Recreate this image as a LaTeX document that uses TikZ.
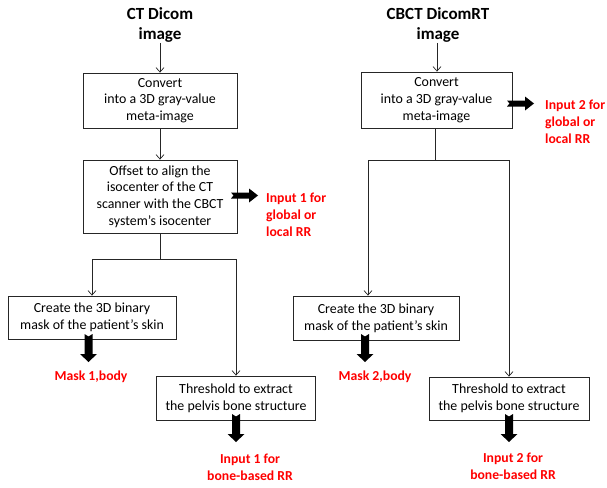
\documentclass[tikz,border=0pt]{standalone}
\usepackage{fontspec}
\setmainfont{Carlito}
\usetikzlibrary{arrows.meta,calc}
\definecolor{lblred}{RGB}{255,0,0}
\begin{document}
\begin{tikzpicture}[x=1pt,y=-1pt,
  box/.style={draw=black!85,line width=0.8pt,align=center,inner sep=0pt,
    font=\fontsize{13.9}{16.7}\selectfont},
  ttl/.style={align=center,inner sep=0pt,font=\bfseries\fontsize{17}{20}\selectfont},
  lbl/.style={text=lblred,inner sep=0pt,font=\bfseries\fontsize{13.7}{17}\selectfont},
  con/.style={draw=black!85,line width=0.7pt},
  arr/.style={con,-{Straight Barb[length=4.5pt,width=8pt,line width=0.7pt]}},
  fatright/.pic={\fill (0,-3)--(2.5,0)--(0,3)--(18,3)--(18,7)--(27,0)--(18,-7)--(18,-3)--cycle;},
  fatdown/.pic={\fill (0,-4)--(2.5,0)--(0,4)--(20,4)--(20,8.5)--(28,0)--(20,-8.5)--(20,-4)--cycle;}
]
\useasboundingbox (0,0) rectangle (607,487);

% titles
\node[ttl] (t1) at (160,25) {CT Dicom\\image};
\node[ttl] (t2) at (438,25) {CBCT DicomRT\\image};

% left column
\node[box,minimum width=154,minimum height=55] (b1) at (160,100.5)
  {Convert\\into a 3D gray-value\\meta-image};
\node[box,minimum width=154,minimum height=73] (b2) at (160,196.5)
  {Offset to align the\\isocenter of the CT\\scanner with the CBCT\\system’s isocenter};
\node[box,minimum width=168,minimum height=43] (b3) at (92,317.5)
  {Create the 3D binary\\mask of the patient’s skin};
\node[box,minimum width=159,minimum height=44] (b4) at (236,398)
  {Threshold to extract\\the pelvis bone structure};

% right column
\node[box,minimum width=151,minimum height=56] (b5) at (436.5,100)
  {Convert\\into a 3D gray-value\\meta-image};
\node[box,minimum width=166,minimum height=44] (b6) at (376,318)
  {Create the 3D binary\\mask of the patient’s skin};
\node[box,minimum width=160,minimum height=43] (b7) at (509,398.5)
  {Threshold to extract\\the pelvis bone structure};

% connectors left
\draw[arr] (t1.south |- 0,43) -- (b1.north);
\draw[arr] (b1) -- (b2);
\coordinate (j1) at (160,259);
\draw[con] (b2.south) -- (j1);
\draw[arr] (j1) -| (b3.north);
\draw[arr] (j1) -| (b4.north);

% connectors right
\draw[arr] (437,43) -- (b5.north -| 437,0);
\coordinate (j2) at (435,160);
\draw[con] (b5.south -| j2) -- (j2);
\coordinate (c6) at (368,0);
\draw[arr] (j2) -| (c6 |- b6.north);
\draw[arr] (j2) -| (b7.north);

% fat arrows
\pic at (231,195.5) {fatright};
\pic at (507,103.5) {fatright};
\pic[rotate=-90] at (88.5,334) {fatdown};
\pic[rotate=-90] at (236,414) {fatdown};
\pic[rotate=-90] at (365,334) {fatdown};
\pic[rotate=-90] at (509,414) {fatdown};

% labels
\node[lbl,align=left,anchor=west] (l1) at (266,214.5) {Input 1 for\\global or\\local RR};
\node[lbl,align=left,anchor=west] (l2) at (545,121.5) {Input 2 for\\global or\\local RR};
\node[lbl] (m1) at (91,377) {Mask 1,body};
\node[lbl] (m2) at (375,377) {Mask 2,body};
\node[lbl,align=center] (i1) at (250,467) {Input 1 for\\bone-based RR};
\node[lbl,align=center] (i2) at (513,466) {Input 2 for\\bone-based RR};
\end{tikzpicture}
\end{document}
